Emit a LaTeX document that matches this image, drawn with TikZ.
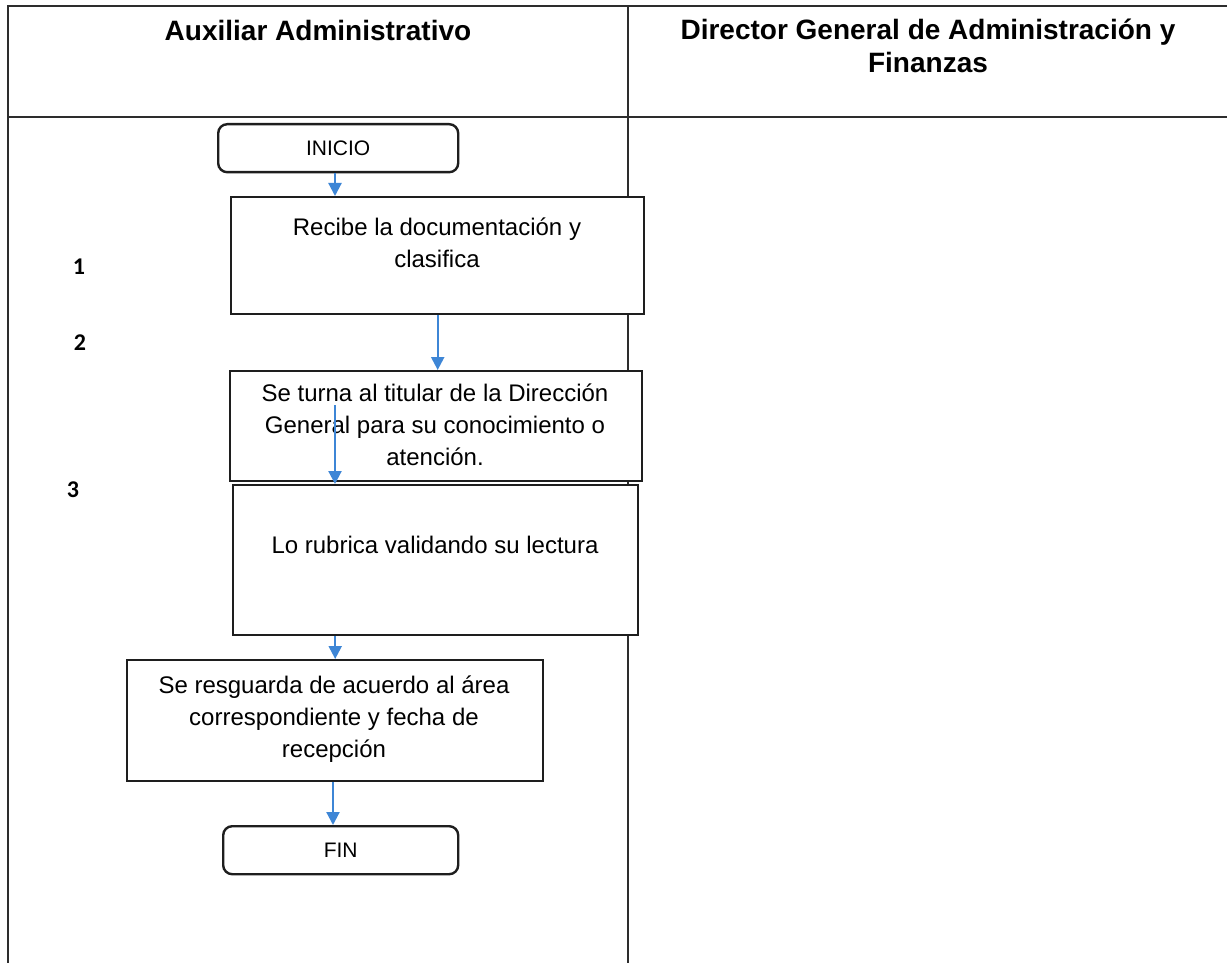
\documentclass[tikz,border=0pt]{standalone}
\usepackage{fontspec}
\setmainfont{Liberation Sans}
\newfontfamily\numfont{Carlito}
\usetikzlibrary{arrows.meta}
\definecolor{flowblue}{RGB}{62,134,214}
\definecolor{gridline}{RGB}{45,45,45}
\definecolor{boxline}{RGB}{30,30,30}
\begin{document}
\begin{tikzpicture}[x=1pt,y=-1pt,
  lane/.style={draw=gridline, line width=1.4pt},
  procbox/.style={draw=boxline, line width=2.4pt, fill=white, inner sep=0pt, anchor=north west},
  termbox/.style={procbox, rounded corners=9pt},
  flow/.style={draw=flowblue, line width=2.2pt, -{Triangle[width=13pt,length=13pt]}},
  bodytext/.style={font=\fontsize{24}{32}\selectfont, align=center, inner sep=0pt},
  termtext/.style={font=\fontsize{21}{25}\selectfont, inner sep=0pt},
  headtext/.style={font=\bfseries\fontsize{28}{33}\selectfont, align=center, inner sep=0pt},
  numlabel/.style={font=\numfont\bfseries\fontsize{24}{28}\selectfont, inner sep=0pt}]
\useasboundingbox (0,0) rectangle (1227,963);
\fill[white] (0,0) rectangle (1227,963);

% swimlane table
\draw[lane] (8,963) -- (8,6) -- (1227,6);
\draw[lane] (8,117) -- (1227,117);
\draw[lane] (628,6) -- (628,963);

\node[headtext] (h1) at (318,30) {Auxiliar Administrativo};
\node[headtext] (h2) at (928,46) {Director General de Administración y\\Finanzas};

% step numbers
\node[numlabel] (n1) at (79,267) {1};
\node[numlabel] (n2) at (80,343) {2};
\node[numlabel] (n3) at (73,490) {3};

% boxes
\node[termbox, minimum width=240pt, minimum height=48pt] (ini) at (217,123) {};
\node[termtext] (tini) at (ini.center) {INICIO};

\node[procbox, minimum width=413pt, minimum height=117pt] (b1) at (230,196) {};
\node[bodytext] (t1) at (437,243) {Recibe la documentación y\\clasifica};

\node[procbox, minimum width=412pt, minimum height=110pt] (b2) at (229,370) {};
\node[bodytext] (t2) at (435,425) {Se turna al titular de la Dirección\\General para su conocimiento o\\atención.};

\node[procbox, minimum width=405pt, minimum height=150pt] (b3) at (232,484) {};
\node[bodytext] (t3) at (435,545) {Lo rubrica validando su lectura};

\node[procbox, minimum width=416pt, minimum height=121pt] (b4) at (126,659) {};
\node[bodytext] (t4) at (334,719) {Se resguarda de acuerdo al área\\correspondiente y fecha de\\recepción};

\node[termbox, minimum width=235pt, minimum height=48pt] (fin) at (222,825) {};
\node[termtext] (tfin) at (fin.center) {FIN};

% connectors
\coordinate (a1) at (335,0);
\draw[flow] (ini.south -| a1) -- (b1.north -| a1);
\draw[flow] (b1.south) -- (b1.south |- b2.north);
\coordinate (a3) at (335,405);
\draw[flow] (a3) -- (a3 |- b3.north);
\draw[flow] (b4.north |- b3.south) -- (b4.north);
\coordinate (a5) at (333,0);
\draw[flow] (b4.south -| a5) -- (fin.north -| a5);
\end{tikzpicture}
\end{document}
